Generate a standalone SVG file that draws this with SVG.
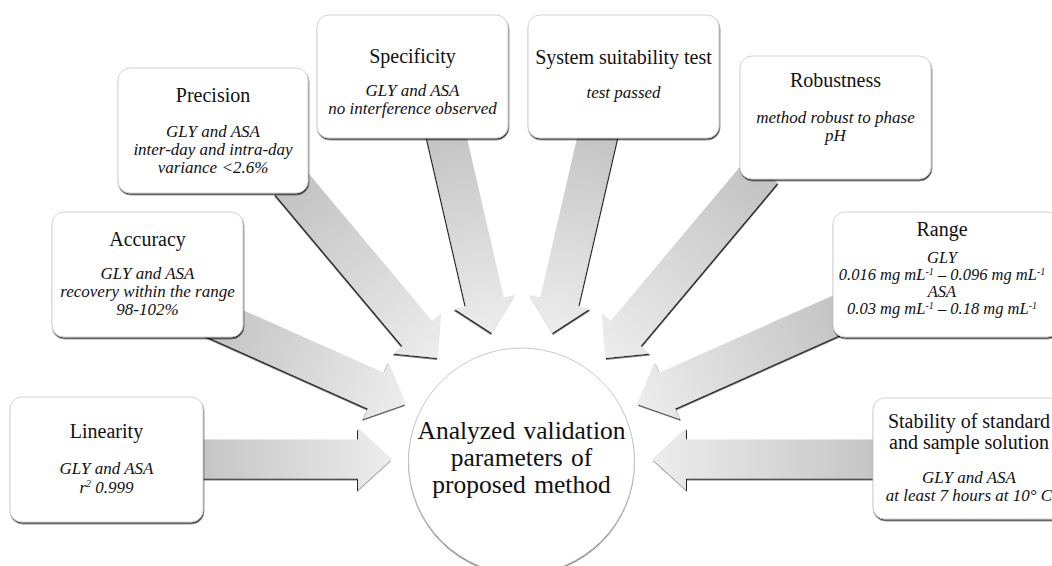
<svg xmlns="http://www.w3.org/2000/svg" width="1052" height="566" viewBox="0 0 1052 566">
<defs>
  <linearGradient id="arrowGrad" x1="0" y1="0" x2="1" y2="0">
    <stop offset="0" stop-color="#c2c2c2"/>
    <stop offset="1" stop-color="#ededed"/>
  </linearGradient>
  <filter id="shL" x="-10%" y="-10%" width="120%" height="130%">
    <feDropShadow dx="-1" dy="1.6" stdDeviation="0.5" flood-color="#000" flood-opacity="0.85"/>
  </filter>
  <filter id="shR" x="-10%" y="-10%" width="120%" height="130%">
    <feDropShadow dx="1" dy="1.6" stdDeviation="0.5" flood-color="#000" flood-opacity="0.85"/>
  </filter>
  <filter id="shBox" x="-5%" y="-5%" width="110%" height="115%">
    <feDropShadow dx="0.6" dy="1.6" stdDeviation="0.6" flood-color="#000" flood-opacity="0.8"/>
  </filter>
  <filter id="shCircle" x="-5%" y="-5%" width="110%" height="110%">
    <feDropShadow dx="0" dy="1.2" stdDeviation="0.7" flood-color="#000" flood-opacity="0.6"/>
  </filter>
</defs>
<style>
  .arrow { fill: url(#arrowGrad); stroke: none; }
  .box { fill: #ffffff; stroke: #c8c8c8; stroke-width: 0.8; }
  .title { font-family: "Liberation Serif", "Times New Roman", serif; font-size: 20px; fill: #111; text-anchor: middle; }
  .it { font-family: "Liberation Serif", "Times New Roman", serif; font-size: 17px; font-style: italic; fill: #111; text-anchor: middle; }
  .it2 { font-family: "Liberation Serif", "Times New Roman", serif; font-size: 16.5px; font-style: italic; fill: #111; text-anchor: middle; }
  .sup { font-size: 10px; }
  .center { font-family: "Liberation Serif", "Times New Roman", serif; font-size: 25.5px; fill: #111; text-anchor: middle; word-spacing: 2px; }
</style>
<rect width="1052" height="566" fill="#ffffff"/>

<g id="connectors">
  <g filter="url(#shL)"><path class="arrow" transform="translate(392,459) rotate(0)" d="M-202,-19.5 L-34,-19.5 L-34,-31 L0,0 L-34,31 L-34,19.5 L-202,19.5 Z"/></g>
  <g filter="url(#shL)"><path class="arrow" transform="translate(406,404) rotate(24)" d="M-215,-19.5 L-33,-19.5 L-33,-31 L0,0 L-33,31 L-33,19.5 L-215,19.5 Z"/></g>
  <g filter="url(#shL)"><path class="arrow" transform="translate(438,358) rotate(50)" d="M-230,-19.5 L-32,-19.5 L-32,-31 L0,0 L-32,31 L-32,19.5 L-230,19.5 Z"/></g>
  <g filter="url(#shL)"><path class="arrow" transform="translate(492,333) rotate(77)" d="M-215,-19.5 L-32,-19.5 L-32,-31 L0,0 L-32,31 L-32,19.5 L-215,19.5 Z"/></g>
  <g filter="url(#shR)"><path class="arrow" transform="translate(552,333) rotate(103)" d="M-215,-19.5 L-32,-19.5 L-32,-31 L0,0 L-32,31 L-32,19.5 L-215,19.5 Z"/></g>
  <g filter="url(#shR)"><path class="arrow" transform="translate(605,358) rotate(130)" d="M-245,-19.5 L-32,-19.5 L-32,-31 L0,0 L-32,31 L-32,19.5 L-245,19.5 Z"/></g>
  <g filter="url(#shR)"><path class="arrow" transform="translate(637,404) rotate(156)" d="M-230,-19.5 L-33,-19.5 L-33,-31 L0,0 L-33,31 L-33,19.5 L-230,19.5 Z"/></g>
  <g filter="url(#shR)"><path class="arrow" transform="translate(652,459) rotate(180)" d="M-240,-19.5 L-34,-19.5 L-34,-31 L0,0 L-34,31 L-34,19.5 L-240,19.5 Z"/></g>
</g>

<g id="center-node">
  <circle cx="521.5" cy="461" r="113" fill="#ffffff" stroke="#bdbdbd" stroke-width="0.8" filter="url(#shCircle)"/>
  <text class="center" x="521.5" y="439">Analyzed validation</text>
  <text class="center" x="521.5" y="466">parameters of</text>
  <text class="center" x="521.5" y="493">proposed method</text>
</g>

<g id="linearity">
  <rect class="box" x="10" y="397" width="193" height="125" rx="12" filter="url(#shBox)"/>
  <text class="title" x="106.5" y="438">Linearity</text>
  <text class="it" x="106.5" y="474">GLY and ASA</text>
  <text class="it" x="106.5" y="493">r<tspan class="sup" dy="-6">2</tspan><tspan dy="6"> 0.999</tspan></text>
</g>

<g id="accuracy">
  <rect class="box" x="52" y="212" width="191" height="125" rx="12" filter="url(#shBox)"/>
  <text class="title" x="147.5" y="246">Accuracy</text>
  <text class="it" x="147.5" y="279">GLY and ASA</text>
  <text class="it" x="147.5" y="297">recovery within the range</text>
  <text class="it" x="147.5" y="315">98-102%</text>
</g>

<g id="precision">
  <rect class="box" x="118" y="68" width="190" height="125" rx="12" filter="url(#shBox)"/>
  <text class="title" x="213" y="102">Precision</text>
  <text class="it" x="213" y="137">GLY and ASA</text>
  <text class="it" x="213" y="155">inter-day and intra-day</text>
  <text class="it" x="213" y="173">variance &lt;2.6%</text>
</g>

<g id="specificity">
  <rect class="box" x="317" y="15" width="191" height="123" rx="12" filter="url(#shBox)"/>
  <text class="title" x="412.5" y="63">Specificity</text>
  <text class="it" x="412.5" y="96">GLY and ASA</text>
  <text class="it" x="412.5" y="114">no interference observed</text>
</g>

<g id="system-suitability">
  <rect class="box" x="528" y="15" width="191" height="123" rx="12" filter="url(#shBox)"/>
  <text class="title" x="623.5" y="64">System suitability test</text>
  <text class="it" x="623.5" y="98">test passed</text>
</g>

<g id="robustness">
  <rect class="box" x="740" y="56" width="191" height="123" rx="12" filter="url(#shBox)"/>
  <text class="title" x="835.5" y="87">Robustness</text>
  <text class="it" x="835.5" y="123">method robust to phase</text>
  <text class="it" x="835.5" y="141">pH</text>
</g>

<g id="range">
  <rect class="box" x="833" y="212" width="226" height="125" rx="12" filter="url(#shBox)"/>
  <text class="title" x="942" y="236">Range</text>
  <text class="it2" x="942" y="263">GLY</text>
  <text class="it2" x="942" y="280">0.016 mg mL<tspan class="sup" dy="-5">-1</tspan><tspan dy="5"> – 0.096 mg mL</tspan><tspan class="sup" dy="-5">-1</tspan></text>
  <text class="it2" x="942" y="297">ASA</text>
  <text class="it2" x="942" y="314">0.03 mg mL<tspan class="sup" dy="-5">-1</tspan><tspan dy="5"> – 0.18 mg mL</tspan><tspan class="sup" dy="-5">-1</tspan></text>
</g>

<g id="stability">
  <rect class="box" x="873" y="398" width="192" height="121" rx="12" filter="url(#shBox)"/>
  <text class="title" x="969" y="428">Stability of standard</text>
  <text class="title" x="969" y="449">and sample solution</text>
  <text class="it" x="969" y="483">GLY and ASA</text>
  <text class="it" x="969" y="501">at least 7 hours at 10° C</text>
</g>
</svg>
